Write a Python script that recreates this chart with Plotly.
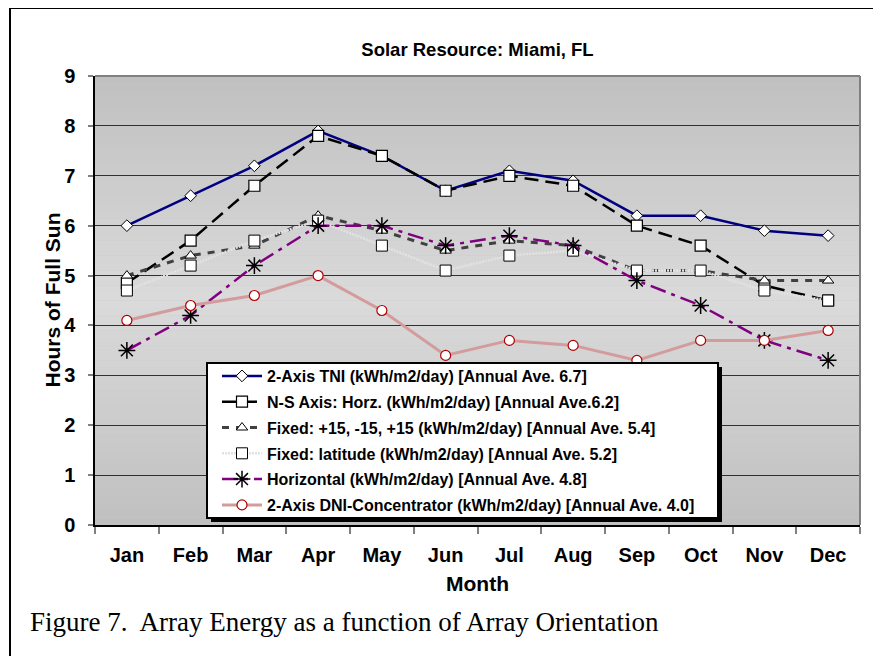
import plotly.graph_objects as go

months = ["Jan", "Feb", "Mar", "Apr", "May", "Jun", "Jul", "Aug", "Sep", "Oct", "Nov", "Dec"]

tni_2axis = [6.0, 6.6, 7.2, 7.9, 7.4, 6.7, 7.1, 6.9, 6.2, 6.2, 5.9, 5.8]
ns_axis_horz = [4.85, 5.7, 6.8, 7.8, 7.4, 6.7, 7.0, 6.8, 6.0, 5.6, 4.8, 4.5]
fixed_15 = [5.0, 5.4, 5.6, 6.2, 5.9, 5.5, 5.7, 5.6, 5.1, 5.1, 4.9, 4.9]
fixed_lat = [4.7, 5.2, 5.7, 6.1, 5.6, 5.1, 5.4, 5.5, 5.1, 5.1, 4.7, 4.5]
horizontal = [3.5, 4.2, 5.2, 6.0, 6.0, 5.6, 5.8, 5.6, 4.9, 4.4, 3.7, 3.3]
dni_conc = [4.1, 4.4, 4.6, 5.0, 4.3, 3.4, 3.7, 3.6, 3.3, 3.7, 3.7, 3.9]

names = [
    "2-Axis TNI (kWh/m2/day) [Annual Ave. 6.7]",
    "N-S Axis: Horz. (kWh/m2/day) [Annual Ave.6.2]",
    "Fixed: +15, -15, +15 (kWh/m2/day) [Annual Ave. 5.4]",
    "Fixed: latitude (kWh/m2/day) [Annual Ave. 5.2]",
    "Horizontal (kWh/m2/day) [Annual Ave. 4.8]",
    "2-Axis DNI-Concentrator (kWh/m2/day) [Annual Ave. 4.0]",
]
y_ticks = list(range(0, 10))

FONT = "Liberation Sans"

# page offset of the figure (body margin)
OFF = 8
W, H = 881 - OFF, 656 - OFF
# plot area in page pixels
PL, PR, PT, PB = 95, 860, 76, 525
PW, PH = PR - PL, PB - PT


def px(xp):
    return (xp - PL) / PW


def py(yp):
    return (PB - yp) / PH


fig = go.Figure()

fig.add_trace(go.Scatter(
    x=months, y=tni_2axis, name=names[0], mode="lines+markers", legendgroup="a",
    line=dict(color="#000080", width=2.5),
    marker=dict(symbol="diamond", size=9, color="white", line=dict(color="black", width=1)),
))
fig.add_trace(go.Scatter(
    x=months, y=ns_axis_horz, name=names[1], mode="lines+markers", legendgroup="b",
    line=dict(color="black", width=2.5, dash="14px,7px"),
    marker=dict(symbol="square", size=11, color="white", line=dict(color="black", width=1.2)),
))
fig.add_trace(go.Scatter(
    x=months, y=fixed_15, name=names[2], mode="lines+markers", legendgroup="c",
    line=dict(color="#404040", width=3, dash="7px,7px"),
    marker=dict(symbol="triangle-up", size=10, color="white", line=dict(color="black", width=1)),
))
fig.add_trace(go.Scatter(
    x=months, y=fixed_lat, name=names[3], mode="lines+markers", legendgroup="d",
    line=dict(color="#e2e2e2", width=2.5, dash="2px,1px"),
    marker=dict(symbol="square", size=11, color="white", line=dict(color="black", width=1)),
))
fig.add_trace(go.Scatter(
    x=months, y=horizontal, name=names[4], mode="lines+markers", legendgroup="e",
    line=dict(color="#800080", width=2.5, dash="16px,6px,4px,6px"),
    marker=dict(symbol="asterisk", size=14, color="black", line=dict(color="black", width=1.5)),
))
fig.add_trace(go.Scatter(
    x=months, y=dni_conc, name=names[5], mode="lines+markers", legendgroup="f",
    line=dict(color="#d39b9b", width=3),
    marker=dict(symbol="circle", size=10, color="white", line=dict(color="#b00000", width=1.2)),
))

# gradient background bands (dark edges, light center)
shapes = []
N = 60
for i in range(N):
    t = (i + 0.5) / N
    d = abs(t - 0.5) * 2
    v = int(round(0xda - (0xda - 0xc0) * d))
    col = f"rgb({v},{v},{v})"
    shapes.append(dict(type="rect", xref="x domain", yref="y domain",
                       x0=0, x1=1, y0=i / N, y1=(i + 1) / N,
                       fillcolor=col, line=dict(width=0), layer="below"))
# top and right border (gray)
shapes.append(dict(type="line", xref="paper", yref="paper", x0=0, x1=1, y0=1, y1=1,
                   line=dict(color="#808080", width=2), layer="above"))
shapes.append(dict(type="line", xref="paper", yref="paper", x0=1, x1=1, y0=0, y1=1,
                   line=dict(color="#808080", width=2), layer="above"))
# legend box: shadow + white box
LB_L, LB_R, LB_T, LB_B = 207, 718, 363, 518
shapes.append(dict(type="rect", xref="paper", yref="paper",
                   x0=px(LB_L + 4), x1=px(LB_R + 4), y0=py(LB_B + 4), y1=py(LB_T + 4),
                   fillcolor="black", line=dict(width=0), layer="above"))
shapes.append(dict(type="rect", xref="paper", yref="paper",
                   x0=px(LB_L), x1=px(LB_R), y0=py(LB_B), y1=py(LB_T),
                   fillcolor="white", line=dict(color="black", width=2), layer="above"))
# outer figure border
shapes.append(dict(type="rect", xref="paper", yref="paper",
                   x0=px(10), x1=px(900), y0=py(700), y1=py(8),
                   line=dict(color="black", width=2), fillcolor="rgba(0,0,0,0)", layer="above"))

fig.update_layout(
    width=W, height=H,
    margin=dict(l=PL - OFF, r=W - (PR - OFF), t=PT - OFF, b=H - (PB - OFF)),
    paper_bgcolor="white",
    plot_bgcolor="#c8c8c8",
    font=dict(family=FONT, color="black"),
    title=dict(text="Solar Resource: Miami, FL", x=0.5, xref="paper", y=1 - (50 - OFF) / H,
               yanchor="middle", font=dict(size=18.5, family=FONT, weight="bold")),
    showlegend=True,
    legend=dict(
        x=px(217), y=py(359), xanchor="left", yanchor="top",
        bgcolor="rgba(0,0,0,0)", borderwidth=0,
        font=dict(size=16, family=FONT, weight="bold"),
        itemwidth=40, tracegroupgap=2, traceorder="grouped",
    ),
    shapes=shapes,
    annotations=[
        dict(text="Hours of Full Sun", xref="paper", yref="paper", x=px(52), y=0.5,
             textangle=-90, showarrow=False, xanchor="center", yanchor="middle",
             font=dict(size=21, family=FONT, weight="bold")),
        dict(text="Figure 7.\u00a0 Array Energy as a function of Array Orientation",
             xref="paper", yref="paper", x=px(28), y=py(622),
             showarrow=False, xanchor="left", yanchor="middle",
             font=dict(size=27, family="Liberation Serif", color="black")),
    ],
    xaxis=dict(
        type="category", categoryorder="array", categoryarray=months,
        showgrid=False, showline=True, linecolor="black", linewidth=1.5,
        ticks="outside", tickson="boundaries", ticklen=7, tickcolor="#808080", tickwidth=2,
        tickfont=dict(size=20, family=FONT, weight="bold"), ticklabelstandoff=11,
        title=dict(text="Month", font=dict(size=21, family=FONT, weight="bold"), standoff=12),
        range=[-0.5, 11.5], zeroline=False,
    ),
    yaxis=dict(
        range=[0, 9], tickvals=y_ticks, showgrid=True, gridcolor="#303030", gridwidth=1,
        showline=True, linecolor="black", linewidth=1.5, zeroline=False,
        ticks="outside", ticklen=5, tickcolor="#808080", tickwidth=2,
        tickfont=dict(size=20, family=FONT, weight="bold"), ticklabelstandoff=9,
    ),
)

fig.write_html("out.html")
